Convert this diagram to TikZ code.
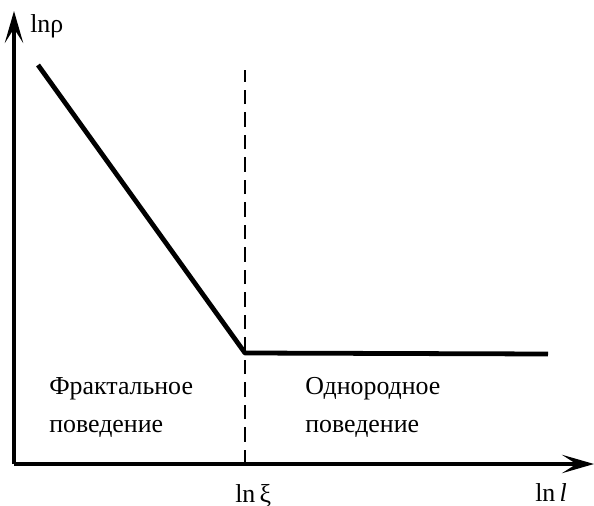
\documentclass[tikz,border=0pt]{standalone}
\usepackage{fontspec}
\setmainfont{Liberation Serif}
\usetikzlibrary{arrows.meta, positioning, calc}

\begin{document}
\begin{tikzpicture}[x=0.025cm, y=-0.025cm,
  axis/.style={line width=2.4pt, -{Stealth[length=0.8cm, width=0.46cm, inset=0.36cm]}},
  curve/.style={line width=3.4pt, line join=round},
  border/.style={line width=1.3pt, dash pattern=on 10pt off 6pt},
  lbl/.style={font=\fontsize{18.4}{27}\selectfont, align=left, inner sep=0pt}
]
\useasboundingbox (0,0) rectangle (594,506);
%% AXES
\coordinate (o)    at (14,464);
\coordinate (ytip) at (14,11);
\coordinate (xtip) at (594,464);
\draw[axis] (o) -- (ytip);
\draw[axis] (o) -- (xtip);
\node[lbl, anchor=base west] (ylab) at (30,33) {lnρ};
\node[lbl, anchor=base west] (xlab) at (535,501) {ln\,\textit{l}};
%% CROSSOVER
\coordinate (xi)    at (245,464);
\coordinate (xitop) at (245,70);
\draw[border] (xi) -- (xitop);
\node[lbl, anchor=base west] (xilab) at (235,502) {ln\,ξ};
%% DENSITY
\coordinate (start) at (38,65);
\coordinate (knee)  at (245,353);
\coordinate (stop)  at (548,354);
\draw[curve] (start) -- (knee) -- (stop);
%% REGIMES
\node[lbl, anchor=base west] (frac) at (49,432) {Фрактальное\\поведение};
\node[lbl, anchor=base west] (homo) at (305,432) {Однородное\\поведение};
\end{tikzpicture}
\end{document}
